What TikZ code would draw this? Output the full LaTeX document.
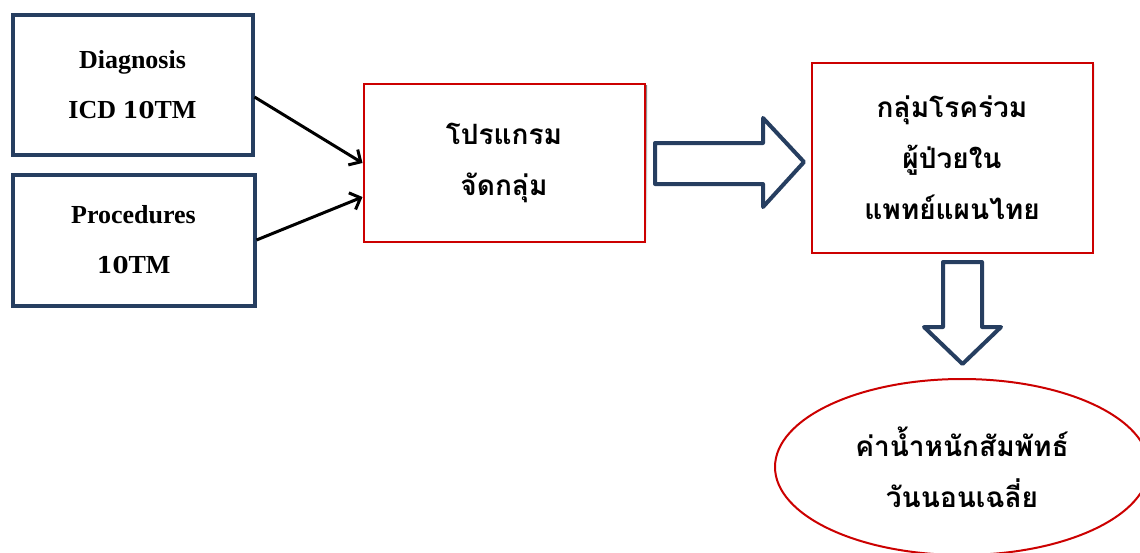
\documentclass[tikz,border=0pt]{standalone}
\usepackage{fontspec}
\setmainfont{Liberation Serif}
\newfontfamily\thaifont[Script=Thai]{Loma}
\newfontfamily\digfont{DejaVu Serif}
\newcommand{\dg}[1]{{\digfont\bfseries\fontsize{23}{50}\selectfont #1}}
\usetikzlibrary{arrows.meta,shapes.geometric}
\definecolor{navy}{RGB}{38,62,96}
\definecolor{boxred}{RGB}{204,0,0}
\definecolor{shade}{RGB}{170,170,170}
\tikzset{
  inbox/.style={draw=navy, line width=4pt, rectangle, inner sep=0pt, fill=white,
    align=center, font=\bfseries\fontsize{26}{50}\selectfont},
  redbox/.style={draw=boxred, line width=2pt, rectangle, inner sep=0pt, fill=white,
    align=center, font=\thaifont\bfseries\fontsize{28}{51}\selectfont},
  blockarrow/.style={draw=navy, line width=4pt, fill=white, line join=round},
  link/.style={draw=black, line width=3pt, -{Straight Barb[length=9pt,width=18pt,line width=3pt]}}
}
\begin{document}
\begin{tikzpicture}[x=1pt,y=-1pt]
\useasboundingbox (0,0) rectangle (1140,552);
\clip (0,0) rectangle (1140,552);
\fill[white] (0,0) rectangle (1140,552);
% shadows
\fill[shade] (365,85) rectangle (647,245.5);
\fill[shade] (812,64) rectangle (1094,257.5);
% boxes
\node[inbox, minimum width=240pt, minimum height=140pt] (diag) at (132.5,85) {Diagnosis\\ICD \dg{10}TM};
\node[inbox, minimum width=242pt, minimum height=131pt] (proc) at (133.5,240) {Procedures\\\dg{10}TM};
\node[redbox, minimum width=281pt, minimum height=158pt] (prog) at (504,162.5) {โปรแกรม\\จัดกลุ่ม};
\node[redbox, minimum width=281pt, minimum height=190pt] (grp) at (952,157.5) {กลุ่มโรคร่วม\\ผู้ป่วยใน\\แพทย์แผนไทย};
\node[redbox, ellipse, minimum width=374pt, minimum height=176pt] (rw) at (962,467) {ค่าน้ำหนักสัมพัทธ์\\วันนอนเฉลี่ย};
% links
\draw[link] (diag.east |- 0,97) -- (prog.west |- 0,163);
\draw[link] (proc.east |- 0,240) -- (prog.west |- 0,197);
% block arrow right
\draw[blockarrow] (655,143) -- (763,143) -- (763,118) -- (804,162) -- (763,207) -- (763,184) -- (655,184) -- cycle;
% block arrow down
\draw[blockarrow] (943,262) -- (982,262) -- (982,327) -- (1001,327) -- (962.5,364) -- (924,327) -- (943,327) -- cycle;
\end{tikzpicture}
\end{document}
